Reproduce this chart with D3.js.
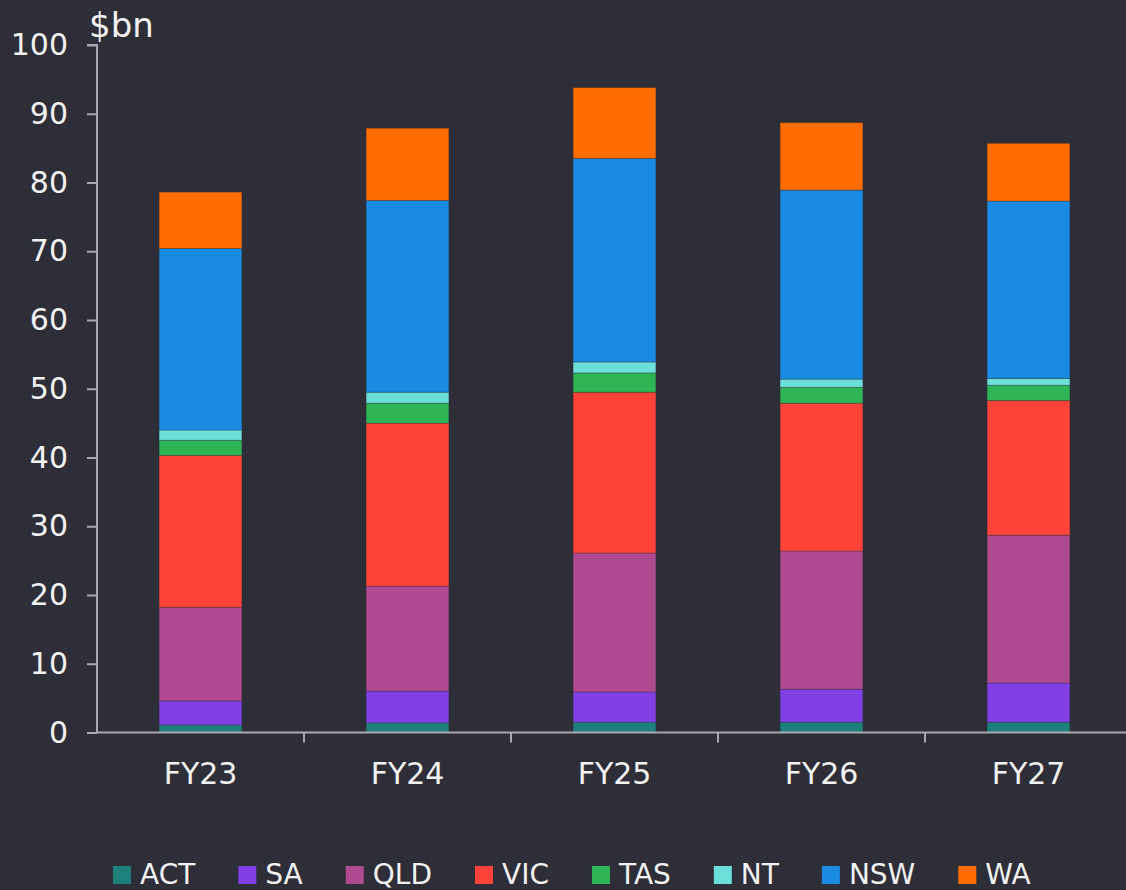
<!DOCTYPE html>
<html>
<head>
<meta charset="utf-8">
<script src="https://cdn.jsdelivr.net/npm/d3@7"></script>
<style>
  html, body { margin: 0; padding: 0; background: #2e2e38; }
  svg { display: block; }
  text { font-family: "DejaVu Sans", sans-serif; fill: #f2f2f2; }
</style>
</head>
<body>
<svg id="chart" width="1126" height="890"></svg>
<script>
const categories = ["FY23", "FY24", "FY25", "FY26", "FY27"];
const seriesNames = ["ACT", "SA", "QLD", "VIC", "TAS", "NT", "NSW", "WA"];
const ACT = [1.1, 1.4, 1.5, 1.5, 1.5];
const SA  = [3.5, 4.6, 4.4, 4.8, 5.7];
const QLD = [13.6, 15.3, 20.2, 20.1, 21.5];
const VIC = [22.1, 23.7, 23.4, 21.5, 19.6];
const TAS = [2.2, 2.9, 2.8, 2.3, 2.2];
const NT  = [1.5, 1.6, 1.6, 1.2, 1.0];
const NSW = [26.4, 27.9, 29.6, 27.5, 25.8];
const WA  = [8.2, 10.5, 10.3, 9.8, 8.4];
const yTicks = [0, 10, 20, 30, 40, 50, 60, 70, 80, 90, 100];
const colors = ["#1e807a", "#8040e5", "#b04a90", "#ff4338", "#2eb555", "#6ddfdb", "#1a8be3", "#ff6d00"];

const seriesValues = { ACT, SA, QLD, VIC, TAS, NT, NSW, WA };
const table = categories.map((c, i) => {
  const row = { cat: c };
  seriesNames.forEach(s => row[s] = seriesValues[s][i]);
  return row;
});

const svg = d3.select("#chart");
const mLeft = 97, mRight = 1132, mTop = 45, mBottom = 732.5;

const x = d3.scaleBand().domain(categories).range([mLeft, mRight]).paddingInner(0.6).paddingOuter(0.3);
const y = d3.scaleLinear().domain([0, 100]).range([mBottom, mTop]);
const color = d3.scaleOrdinal().domain(seriesNames).range(colors);

const stacked = d3.stack().keys(seriesNames)(table);

svg.append("g").selectAll("g").data(stacked).join("g")
  .attr("fill", d => color(d.key))
  .selectAll("rect").data(d => d).join("rect")
  .attr("x", d => x(d.data.cat))
  .attr("width", x.bandwidth())
  .attr("y", d => y(d[1]))
  .attr("height", d => y(d[0]) - y(d[1]))
  .attr("stroke", "rgba(46,46,56,0.35)")
  .attr("stroke-width", 1);

const axisColor = "#a8a8b2";

// Y axis
const yAxis = svg.append("g").attr("transform", `translate(${mLeft},0)`)
  .call(d3.axisLeft(y).tickValues(yTicks).tickSize(10).tickPadding(19));
yAxis.select(".domain").attr("stroke", axisColor).attr("stroke-width", 2).attr("d", `M-10,${mTop}H0V${mBottom}`);
yAxis.selectAll(".tick line").attr("stroke", axisColor).attr("stroke-width", 2);
yAxis.selectAll(".tick text").style("font-size", "30px").attr("fill", "#f2f2f2");

// X axis
const xAxis = svg.append("g").attr("transform", `translate(0,${mBottom})`)
  .call(d3.axisBottom(x).tickSize(0).tickPadding(30));
xAxis.select(".domain").attr("stroke", axisColor).attr("stroke-width", 2).attr("d", `M${mLeft},0H${mRight}`);
xAxis.selectAll(".tick text").style("font-size", "30px").attr("fill", "#f2f2f2");
const boundaries = categories.slice(1).map(c => x(c) - x.step() * x.paddingInner() / 2);
xAxis.selectAll(".bnd").data(boundaries).join("line")
  .attr("class", "bnd")
  .attr("x1", d => d).attr("x2", d => d)
  .attr("y1", 0).attr("y2", 10)
  .attr("stroke", axisColor).attr("stroke-width", 2);

// Unit label
svg.append("text").attr("x", 89).attr("y", 37).style("font-size", "34px").text("$bn");

// Legend
const legend = svg.append("g");
const items = [];
seriesNames.forEach((s, i) => {
  const g = legend.append("g");
  g.append("rect").attr("x", 0).attr("y", -18).attr("width", 18).attr("height", 18).attr("fill", colors[i]);
  const t = g.append("text").attr("x", 27).attr("y", 0).style("font-size", "28px").text(s);
  const w = 27 + t.node().getComputedTextLength();
  items.push({ g, w });
});
const gap = 43;
let startX = 113;
items.forEach(it => {
  it.g.attr("transform", `translate(${startX},884)`);
  startX += it.w + gap;
});
</script>
</body>
</html>
